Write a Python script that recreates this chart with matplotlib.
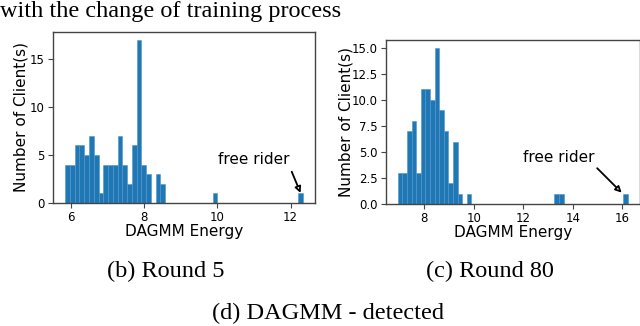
import numpy as np
import matplotlib
matplotlib.use("Agg")
import matplotlib.pyplot as plt

# histogram counts (50 bins each)
round5_range = (5.845, 12.34)
round5_counts = [4, 4, 6, 6, 5, 7, 5, 1, 4, 4,
                 4, 7, 4, 2, 6, 17, 4, 3, 0, 3,
                 2, 0, 0, 0, 0, 0, 0, 0, 0, 0,
                 0, 1, 0, 0, 0, 0, 0, 0, 0, 0,
                 0, 0, 0, 0, 0, 0, 0, 0, 0, 1]

round80_range = (6.925, 16.24)
round80_counts = [3, 3, 7, 8, 3, 11, 11, 10, 15, 9,
                  7, 2, 6, 1, 0, 1, 0, 0, 0, 0,
                  0, 0, 0, 0, 0, 0, 0, 0, 0, 0,
                  0, 0, 0, 0, 1, 1, 0, 0, 0, 0,
                  0, 0, 0, 0, 0, 0, 0, 0, 0, 1]

# annotation: text position, arrow start, arrow tip
round5_note = [(10.99, 4.55), (12.03, 3.26), (12.27, 1.05)]
round80_note = [(13.45, 4.46), (14.99, 3.44), (15.98, 1.09)]

title_text = "with the change of training process"
sub_captions = ["(b) Round 5", "(c) Round 80"]
main_caption = "(d) DAGMM - detected"

serif = "Liberation Serif"
spine_col = "#444444"
cap_size = 17.5

fig = plt.figure(figsize=(6.4, 3.26), dpi=100)

ax1 = fig.add_axes([0.0833, 0.3773, 0.4089, 0.5255])
ax2 = fig.add_axes([0.6034, 0.3742, 0.3960, 0.5031])


def draw_hist(ax, rng, counts, note, ylab_x):
    edges = np.linspace(rng[0], rng[1], len(counts) + 1)
    ax.hist(edges[:-1], bins=edges, weights=counts, color="#1f77b4",
            edgecolor="#4f93cf", linewidth=0.4)
    ax.set_xlabel("DAGMM Energy", fontsize=11)
    ax.set_ylabel("Number of Client(s)", fontsize=11)
    ax.xaxis.set_label_coords(0.5, -0.125)
    ax.yaxis.set_label_coords(ylab_x, 0.5)
    ax.tick_params(labelsize=8.5, length=3.5, width=0.8, pad=2.5,
                   color=spine_col)
    for s in ax.spines.values():
        s.set_color(spine_col)
        s.set_linewidth(1.0)
    # free rider label with arrow
    ax.text(note[0][0], note[0][1], "free rider", fontsize=11,
            ha="center", va="center")
    ax.annotate("", xy=note[2], xytext=note[1],
                arrowprops=dict(arrowstyle="-|>", fc="white", ec="black",
                                lw=1.3, mutation_scale=9,
                                shrinkA=0, shrinkB=0))


draw_hist(ax1, round5_range, round5_counts, round5_note, -0.095)
draw_hist(ax2, round80_range, round80_counts, round80_note, -0.13)

ax1.set_xticks([6, 8, 10, 12])
ax1.set_yticks([0, 5, 10, 15])
ax2.set_xticks([8, 10, 12, 14, 16])
ax2.set_yticks([0, 2.5, 5, 7.5, 10, 12.5, 15])
ax2.set_yticklabels(["0.0", "2.5", "5.0", "7.5", "10.0", "12.5", "15.0"])

# captions in the paper style
fig.text(0.0, 1 - 0.5 / 326, title_text, family=serif, fontsize=cap_size,
         ha="left", va="top")
fig.text(165.3 / 640, 1 - 271.7 / 326, sub_captions[0], family=serif,
         fontsize=cap_size, ha="center", va="center")
fig.text(490.4 / 640, 1 - 271.7 / 326, sub_captions[1], family=serif,
         fontsize=cap_size, ha="center", va="center")
fig.text(328 / 640, 1 - 313 / 326, main_caption, family=serif,
         fontsize=cap_size, ha="center", va="center")

plt.savefig("out.png", dpi=100)
